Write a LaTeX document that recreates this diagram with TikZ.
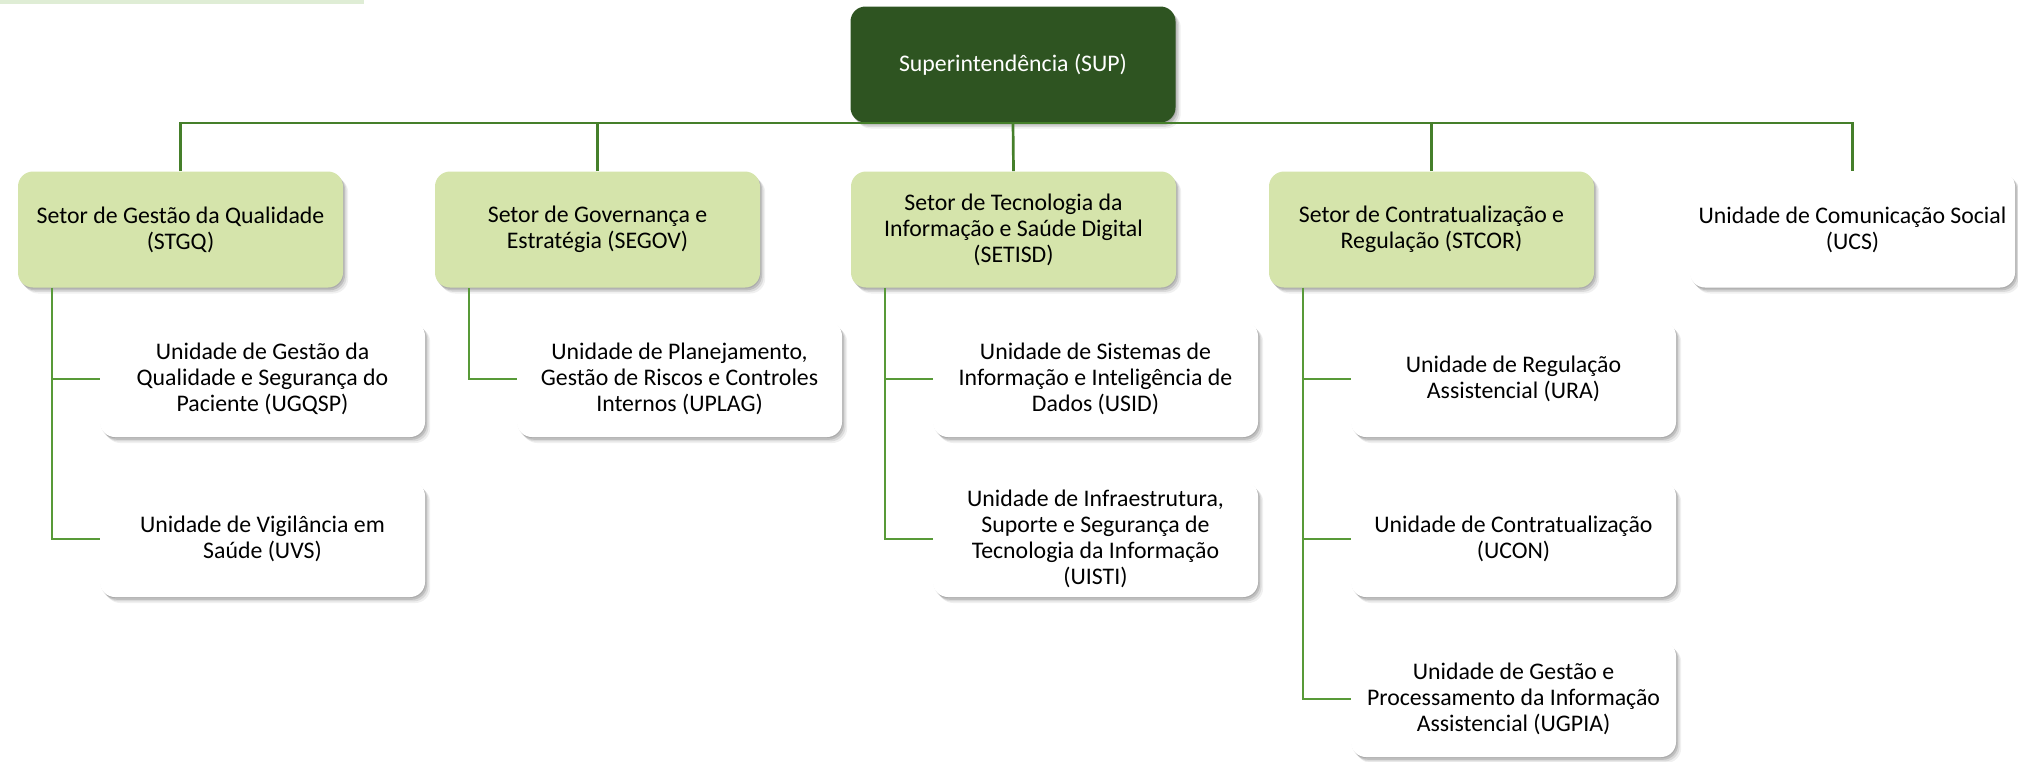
\documentclass[tikz,border=0pt]{standalone}
\usepackage{fontspec}
\setmainfont{Carlito}
\usetikzlibrary{shadows}
\definecolor{supgreen}{HTML}{2E5421}
\definecolor{setgreen}{HTML}{D5E4AB}
\definecolor{linegreen}{HTML}{457F2A}
\definecolor{branchgreen}{HTML}{589A38}
\definecolor{topbar}{HTML}{DFEDD5}
\begin{document}
\begin{tikzpicture}[x=0.5pt,y=-0.5pt,
  box/.style={rounded corners=7.5pt, minimum width=162.5pt, minimum height=58pt,
    align=center, inner sep=0pt, font=\fontsize{11.9}{13}\selectfont,
    drop shadow={shadow xshift=2.6pt, shadow yshift=-3pt, opacity=0.06, fill=black},
    drop shadow={shadow xshift=1.8pt, shadow yshift=-2.2pt, opacity=0.09, fill=black},
    drop shadow={shadow xshift=1.0pt, shadow yshift=-1.4pt, opacity=0.12, fill=black},
    drop shadow={shadow xshift=0.3pt, shadow yshift=-0.6pt, opacity=0.10, fill=black}},
  supbox/.style={box, fill=supgreen, text=white},
  setbox/.style={box, fill=setgreen},
  unitbox/.style={box, fill=white},
  topline/.style={draw=linegreen, line width=1.35pt},
  branch/.style={draw=branchgreen, line width=1.1pt}]
\useasboundingbox (0,0) rectangle (2018,761);
\fill[topbar] (0,0) rectangle (364,4);

\node[supbox] (sup) at (1013,64.5) {Superintendência (SUP)};

\node[setbox] (stgq)  at (180.5,229.5)  {Setor de Gestão da Qualidade\\(STGQ)};
\node[setbox] (segov) at (597.5,229.5)  {Setor de Governança e\\Estratégia (SEGOV)};
\node[setbox] (setisd) at (1013.5,229.5) {Setor de Tecnologia da\\Informação e Saúde Digital\\(SETISD)};
\node[setbox] (stcor) at (1431.5,229.5) {Setor de Contratualização e\\Regulação (STCOR)};
\node[unitbox] (ucs)  at (1852.5,229.5) {Unidade de Comunicação Social\\(UCS)};

\node[unitbox] (ugqsp) at (262.5,379) {Unidade de Gestão da\\Qualidade e Segurança do\\Paciente (UGQSP)};
\node[unitbox] (uvs)   at (262.5,539) {Unidade de Vigilância em\\Saúde (UVS)};
\node[unitbox] (uplag) at (679.5,379) {Unidade de Planejamento,\\Gestão de Riscos e Controles\\Internos (UPLAG)};
\node[unitbox] (usid)  at (1095.5,379) {Unidade de Sistemas de\\Informação e Inteligência de\\Dados (USID)};
\node[unitbox] (uisti) at (1095.5,539) {Unidade de Infraestrutura,\\Suporte e Segurança de\\Tecnologia da Informação\\(UISTI)};
\node[unitbox] (ura)   at (1513.5,379) {Unidade de Regulação\\Assistencial (URA)};
\node[unitbox] (ucon)  at (1513.5,539) {Unidade de Contratualização\\(UCON)};
\node[unitbox] (ugpia) at (1513.5,699) {Unidade de Gestão e\\Processamento da Informação\\Assistencial (UGPIA)};

\draw[topline] (sup.south) -- (setisd.north);
\draw[topline] (stgq.north) -- (stgq.north |- sup.south) -- (ucs.north |- sup.south) -- (ucs.north);
\draw[topline] (segov.north) -- (segov.north |- sup.south);
\draw[topline] (stcor.north) -- (stcor.north |- sup.south);

\coordinate (sp1) at ([xshift=17pt]stgq.south west);
\coordinate (sp2) at ([xshift=17pt]segov.south west);
\coordinate (sp3) at ([xshift=17pt]setisd.south west);
\coordinate (sp4) at ([xshift=17pt]stcor.south west);
\draw[branch] (sp1) |- (ugqsp.west);
\draw[branch] (sp1) |- (uvs.west);
\draw[branch] (sp2) |- (uplag.west);
\draw[branch] (sp3) |- (usid.west);
\draw[branch] (sp3) |- (uisti.west);
\draw[branch] (sp4) |- (ura.west);
\draw[branch] (sp4) |- (ucon.west);
\draw[branch] (sp4) |- (ugpia.west);
\end{tikzpicture}
\end{document}
